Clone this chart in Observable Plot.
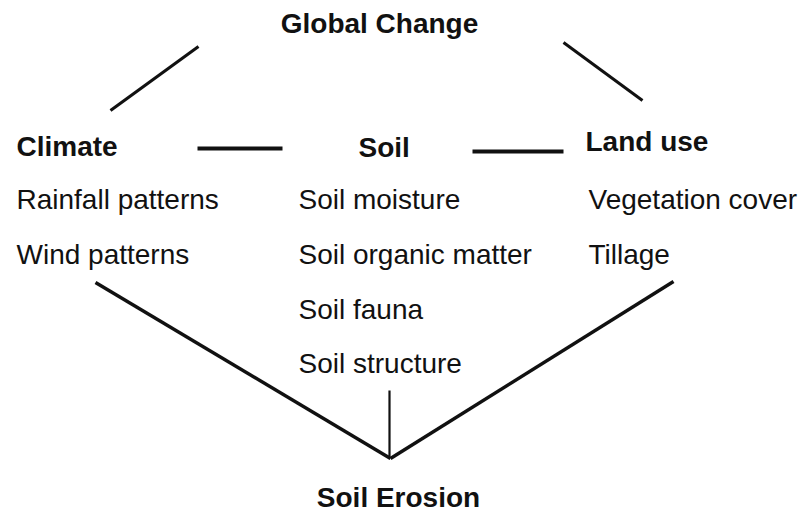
<!DOCTYPE html>
<html>
<head>
<meta charset="utf-8">
<script src="https://cdn.jsdelivr.net/npm/d3@7"></script>
<script src="https://cdn.jsdelivr.net/npm/@observablehq/plot@0.6"></script>
<style>
  html, body { margin: 0; padding: 0; background: #fff; }
  #chart svg { display: block; }
</style>
</head>
<body>
<div id="chart"></div>
<script>
// ---- content ----
const topNode = "Global Change";
const bottomNode = "Soil Erosion";
const groups = ["Climate", "Soil", "Land use"];
const climateFactors = ["Rainfall patterns", "Wind patterns"];
const soilFactors = ["Soil moisture", "Soil organic matter", "Soil fauna", "Soil structure"];
const landUseFactors = ["Vegetation cover", "Tillage"];

// ---- diagram layout (diagram units, y downwards) ----
const groupX = [16, 358, 585];      // left edge of each group heading
const factorX = [16, 298, 588];     // left edge of each factor column
const groupBaseline = [155, 156, 150];
const factorBaselines = [208, 263, 318, 372];

const centerNodes = [
  {text: topNode, x: 379, y: 32},
  {text: bottomNode, x: 398, y: 506}
];
const groupNodes = groups.map((g, i) => ({text: g, x: groupX[i], y: groupBaseline[i]}));
const factorNodes = [climateFactors, soilFactors, landUseFactors].flatMap((list, c) =>
  list.map((t, r) => ({text: t, x: factorX[c], y: factorBaselines[r]})));

const links = [
  {x1: 198, y1: 46, x2: 110, y2: 110, w: 3},
  {x1: 563, y1: 42, x2: 642, y2: 100, w: 3},
  {x1: 197, y1: 148, x2: 282, y2: 148, w: 4},
  {x1: 472, y1: 151, x2: 563, y2: 151, w: 4},
  {x1: 95, y1: 282, x2: 390, y2: 458, w: 3.5},
  {x1: 673, y1: 281, x2: 390, y2: 458, w: 3.5},
  {x1: 389, y1: 390, x2: 389, y2: 456, w: 2.2}
];

const font = "'Liberation Sans', Arial, Helvetica, sans-serif";
const fs = 28;

const chart = Plot.plot({
  width: 802,
  height: 513,
  margin: 0,
  style: {background: "#fff", fontFamily: font},
  x: {domain: [0, 802], range: [0, 802], axis: null},
  y: {domain: [0, 513], range: [0, 513], axis: null},
  marks: [
    Plot.link(links, {x1: "x1", y1: "y1", x2: "x2", y2: "y2", stroke: "#111", strokeWidth: d => d.w, strokeLinecap: "butt"}),
    Plot.text(centerNodes, {x: "x", y: "y", text: "text", textAnchor: "middle", lineAnchor: "bottom",
      fontSize: fs, fontWeight: "bold", fill: "#111", fontFamily: font}),
    Plot.text(groupNodes, {x: "x", y: "y", text: "text", textAnchor: "start", lineAnchor: "bottom",
      fontSize: fs, fontWeight: "bold", fill: "#111", fontFamily: font}),
    Plot.text(factorNodes, {x: "x", y: "y", text: "text", textAnchor: "start", lineAnchor: "bottom",
      fontSize: fs, fill: "#111", fontFamily: font})
  ]
});
document.getElementById("chart").appendChild(chart);
</script>
</body>
</html>
